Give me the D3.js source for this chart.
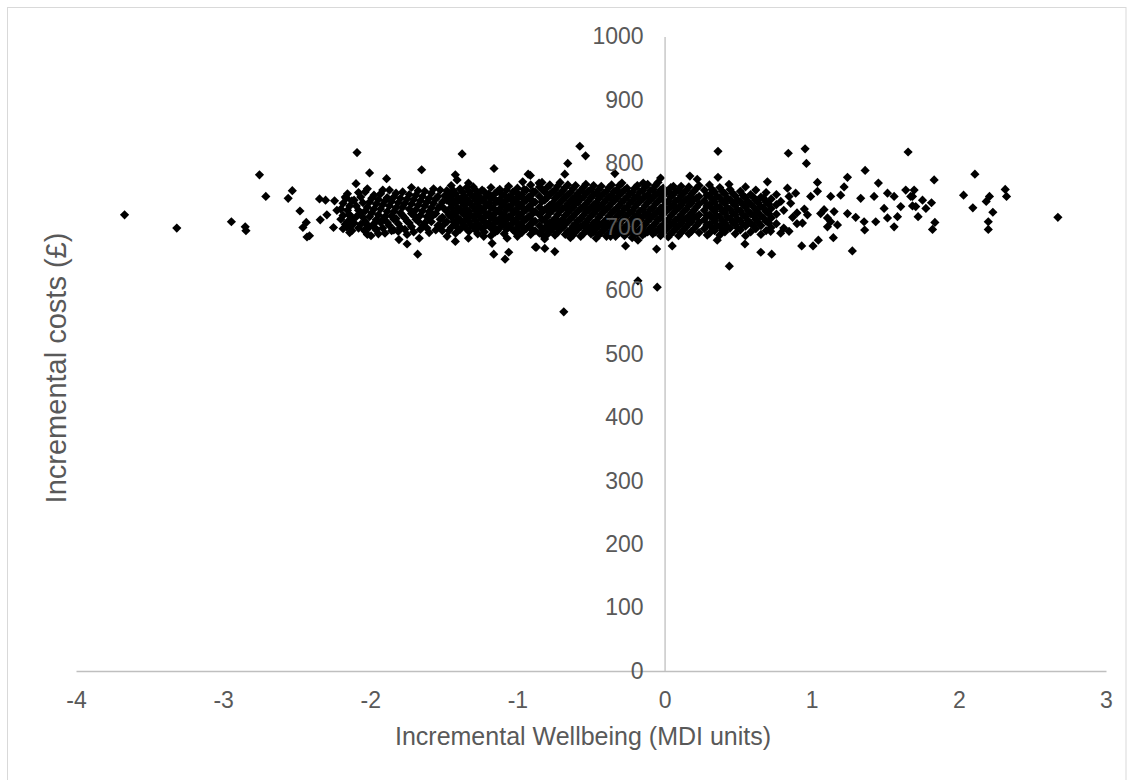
<!DOCTYPE html>
<html>
<head>
<meta charset="utf-8">
<script src="https://cdn.jsdelivr.net/npm/d3@7/dist/d3.min.js"></script>
<style>
  html, body { margin: 0; padding: 0; background: #fff; }
  svg { display: block; font-family: Arial, "Liberation Sans", sans-serif; }
</style>
</head>
<body>
<div id="chart"></div>
<script>
// tick labels
const xTicks = [-4, -3, -2, -1, 0, 1, 2, 3];
const yTicks = [0, 100, 200, 300, 400, 500, 600, 700, 800, 900, 1000];

// scattered points [wellbeing, cost]
const leftTail = [
  [-3.67, 719], [-3.315, 698], [-2.944, 708], [-2.85, 700], [-2.845, 694], [-2.753, 782],
  [-2.71, 748], [-2.53, 757], [-2.558, 745], [-2.478, 725], [-2.435, 707], [-2.458, 699],
  [-2.413, 686], [-2.43, 684], [-2.345, 744], [-2.304, 742], [-2.243, 741], [-2.227, 726],
  [-2.25, 699], [-2.295, 719], [-2.34, 711], [-2.165, 745], [-2.146, 719], [-2.16, 700],
];

const leftScatter = [
  [-2.09, 817], [-1.376, 815], [-2.005, 785], [-1.889, 776], [-1.651, 790], [-1.159, 792],
  [-1.422, 782], [-1.41, 774], [-0.927, 783], [-0.964, 771], [-0.853, 769], [-2.097, 768],
  [-2.163, 746], [-1.333, 769], [-1.678, 657], [-1.805, 680], [-1.75, 673], [-1.667, 682],
  [-1.422, 677], [-1.161, 657], [-1.084, 649], [-1.059, 660], [-0.878, 668], [-1.478, 685],
  [-1.333, 682], [-1.229, 685], [-1.172, 674], [-1.995, 686], [-2.04, 695], [-2.136, 700],
  [-1.84, 695], [-1.966, 698], [-1.07, 682], [-1.002, 695], [-0.912, 781],
];

const centreScatter = [
  [-0.576, 827], [-0.537, 812], [-0.658, 800], [-0.678, 783], [-0.338, 784], [-0.145, 769],
  [-0.027, 777], [-0.833, 770], [0.172, 780], [0.222, 775], [0.363, 819], [0.363, 778],
  [-0.871, 668], [-0.814, 666], [-0.746, 661], [-0.82, 685], [-0.265, 670], [-0.181, 679],
  [-0.054, 665], [0.052, 670], [-0.181, 615], [-0.05, 605], [-0.685, 566], [0.44, 638],
  [0.358, 679], [0.29, 687], [-0.367, 685], [-0.333, 685],
];

const rightScatter = [
  [0.955, 823], [0.841, 816], [0.964, 800], [1.655, 818], [1.363, 789], [1.243, 778],
  [1.039, 770], [1.453, 769], [0.699, 771], [0.438, 767], [0.654, 660], [0.728, 657],
  [0.932, 670], [1.009, 670], [1.045, 679], [1.147, 683], [1.276, 662], [0.546, 673],
  [1.36, 695], [1.435, 708], [1.56, 700], [1.583, 716], [1.639, 758], [1.685, 748],
  [1.707, 732], [1.424, 748], [1.515, 753], [1.56, 748], [1.492, 729], [1.605, 732],
  [1.515, 714], [1.333, 745], [1.299, 715], [1.356, 708], [1.243, 721], [1.197, 750],
  [1.22, 763], [1.129, 748], [1.107, 714], [1.061, 721], [1.039, 756], [0.993, 748],
  [0.937, 706], [0.971, 719], [1.152, 724], [1.129, 708], [1.175, 703], [1.084, 727],
  [1.107, 700], [0.857, 737], [0.835, 761], [0.891, 753], [0.846, 748], [0.789, 690],
  [0.846, 693], [0.721, 693], [0.79, 740], [0.81, 726], [0.87, 715], [0.9, 722],
  [0.95, 728], [0.81, 698], [0.9, 705],
];

const rightTail = [
  [1.832, 774], [2.109, 783], [2.032, 750], [2.095, 730], [2.208, 748], [2.186, 740],
  [2.231, 723], [2.2, 708], [2.2, 696], [2.315, 759], [2.324, 748], [2.673, 715],
  [1.696, 758], [1.673, 748], [1.753, 742], [1.814, 738], [1.776, 729], [1.685, 733],
  [1.723, 716], [1.837, 707], [1.821, 696],
];

// dense band, read as columns: [wellbeing, [costs...]]
const leftBand = [
  [-2.20, [728, 712]], [-2.17, [747, 704]], [-2.14, [733, 719, 691]], [-2.11, [742, 706]],
  [-2.08, [754, 726, 698]], [-2.05, [738, 715]], [-2.02, [760, 731, 703, 688]],
  [-1.99, [745, 722]], [-1.96, [736, 711, 695]], [-1.93, [752, 728, 707]],
  [-1.90, [741, 716, 690]], [-1.87, [758, 733, 702]], [-1.84, [747, 724, 712]],
  [-1.81, [738, 705, 693]], [-1.78, [755, 731, 718]], [-1.75, [744, 709, 688]],
  [-1.72, [762, 736, 721, 700]], [-1.69, [750, 727, 712]], [-1.66, [741, 718, 696]],
  [-1.63, [756, 733, 706]], [-1.60, [745, 724, 713, 691]], [-1.57, [760, 737, 719]],
  [-1.54, [748, 729, 702]], [-1.51, [739, 715, 694]], [-1.48, [757, 742, 725, 708]],
];

const leftFill = [
  [-2.185, [737, 718, 697]], [-2.155, [752, 726, 708]], [-2.125, [741, 712, 694]],
  [-2.095, [733, 716]], [-2.065, [747, 721, 704]], [-2.035, [755, 725, 709, 693]],
  [-2.005, [739, 716, 700]], [-1.975, [750, 728, 705]], [-1.945, [743, 719, 689]],
  [-1.915, [758, 735, 712, 698]], [-1.885, [746, 724, 707]], [-1.855, [740, 717, 694]],
  [-1.825, [753, 730, 713]], [-1.795, [745, 722, 699]], [-1.765, [737, 714, 696]],
  [-1.735, [751, 728, 706]], [-1.705, [743, 719, 692]], [-1.675, [757, 734, 709]],
  [-1.645, [748, 725, 702]], [-1.615, [739, 716, 698]], [-1.585, [753, 730, 708]],
  [-1.555, [744, 721, 695]], [-1.525, [758, 733, 712, 700]], [-1.495, [749, 728, 705]],
  [-1.465, [754, 740, 719, 694]],
];

const midBand = [
  [-1.45, [765, 748, 731, 716, 699]], [-1.42, [752, 737, 722, 705, 690]],
  [-1.39, [760, 744, 728, 711, 696]], [-1.36, [749, 734, 719, 702]],
  [-1.33, [756, 740, 724, 709, 693]], [-1.30, [763, 747, 731, 716, 700]],
  [-1.27, [752, 737, 721, 705, 689]], [-1.24, [758, 742, 727, 712, 697]],
  [-1.21, [748, 733, 718, 703]], [-1.18, [762, 745, 730, 714, 698, 686]],
  [-1.15, [753, 738, 722, 707, 692]], [-1.12, [759, 743, 728, 713, 699]],
  [-1.09, [750, 735, 719, 704, 689]], [-1.06, [764, 747, 732, 716, 701]],
  [-1.03, [755, 740, 725, 710, 695]], [-1.00, [761, 745, 729, 714, 699, 685]],
  [-0.97, [751, 736, 721, 706, 691]], [-0.94, [758, 742, 727, 712, 697]],
  [-0.91, [766, 749, 734, 718, 703, 688]], [-0.88, [755, 739, 724, 709, 694]],
];

const midFill = [
  [-1.435, [757, 740, 723, 708]], [-1.405, [745, 729, 714, 698]],
  [-1.375, [755, 738, 722, 706]], [-1.345, [762, 744, 727, 712, 697]],
  [-1.315, [751, 735, 718, 703]], [-1.285, [758, 742, 726, 710, 695]],
  [-1.255, [747, 731, 716, 701]], [-1.225, [755, 739, 723, 708, 692]],
  [-1.195, [752, 737, 721, 706]], [-1.165, [746, 730, 715, 700]],
  [-1.135, [756, 740, 725, 709, 694]], [-1.105, [751, 735, 720, 705]],
  [-1.075, [758, 742, 727, 711, 696]], [-1.045, [748, 733, 718, 703]],
  [-1.015, [755, 739, 724, 708, 692]], [-0.985, [750, 735, 719, 704]],
  [-0.955, [759, 743, 728, 712, 698]], [-0.925, [747, 731, 716, 701]],
  [-0.895, [756, 740, 725, 709, 694]],
];

const coreBand = [
  [-0.85, [763, 748, 731, 719, 702, 690]], [-0.815, [755, 742, 727, 710, 698, 681]],
  [-0.78, [766, 751, 734, 722, 706, 693]], [-0.745, [758, 745, 730, 713, 701, 687]],
  [-0.71, [770, 752, 739, 725, 708, 696]], [-0.675, [762, 747, 731, 718, 704, 688]],
  [-0.64, [754, 741, 727, 712, 695, 683]], [-0.605, [765, 748, 736, 721, 705, 692]],
  [-0.57, [757, 744, 729, 713, 700, 685]], [-0.535, [767, 752, 736, 723, 707, 694]],
  [-0.50, [759, 746, 730, 717, 701, 689]], [-0.465, [753, 738, 726, 709, 697, 682]],
  [-0.43, [764, 749, 733, 720, 704, 691]], [-0.395, [756, 743, 728, 712, 699, 685]],
  [-0.36, [766, 750, 737, 722, 706, 693]], [-0.325, [758, 745, 729, 716, 700, 688]],
  [-0.29, [769, 754, 739, 723, 710, 694]], [-0.255, [761, 747, 731, 718, 702, 690]],
  [-0.22, [754, 741, 725, 712, 696, 683]], [-0.185, [765, 748, 736, 719, 707, 691]],
  [-0.15, [757, 744, 727, 715, 698, 687]], [-0.115, [767, 750, 738, 721, 709, 692]],
  [-0.08, [759, 746, 730, 717, 701, 689]], [-0.045, [770, 753, 740, 724, 711, 695]],
  [-0.01, [761, 749, 732, 720, 703, 691]], [0.025, [755, 740, 728, 711, 699, 684]],
  [0.06, [764, 751, 735, 722, 706, 693]], [0.095, [758, 743, 730, 714, 701, 686]],
  [0.13, [753, 740, 724, 711, 695]], [0.165, [763, 746, 734, 717, 705, 689]],
  [0.20, [756, 743, 726, 714, 697]], [0.235, [765, 748, 736, 719, 707, 691]],
];

const coreFill = [
  [-0.8325, [759, 740, 723, 711, 694]], [-0.7975, [762, 746, 730, 716, 702, 688]],
  [-0.7625, [755, 737, 726, 709, 697]], [-0.7275, [764, 749, 734, 719, 705, 691]],
  [-0.6925, [757, 742, 729, 712, 699]], [-0.6575, [766, 751, 736, 722, 708, 693]],
  [-0.6225, [760, 744, 731, 716, 701, 687]], [-0.5875, [753, 739, 725, 710, 697]],
  [-0.5525, [762, 747, 732, 718, 703, 689]], [-0.5175, [756, 741, 727, 712, 698]],
  [-0.4825, [765, 750, 735, 721, 706, 692]], [-0.4475, [759, 744, 730, 715, 701, 687]],
  [-0.4125, [753, 738, 724, 708, 695]], [-0.3775, [762, 747, 732, 717, 703, 689]],
  [-0.3425, [756, 741, 726, 711, 697]], [-0.3075, [765, 750, 734, 720, 705, 691]],
  [-0.2725, [758, 743, 729, 714, 699, 686]], [-0.2375, [752, 737, 722, 707, 693]],
  [-0.2025, [761, 746, 731, 716, 702, 688]], [-0.1675, [755, 740, 725, 710, 696]],
  [-0.1325, [763, 748, 733, 719, 704, 690]], [-0.0975, [757, 742, 727, 713, 698]],
  [-0.0625, [765, 751, 736, 721, 706, 692]], [-0.0275, [758, 744, 729, 714, 700, 686]],
  [0.0075, [754, 739, 724, 709, 695]], [0.0425, [762, 747, 732, 717, 703, 689]],
  [0.0775, [756, 741, 726, 711, 697]], [0.1125, [764, 749, 734, 719, 705, 691]],
  [0.1475, [758, 743, 728, 713, 700]], [0.1825, [752, 737, 722, 708, 693]],
  [0.2175, [761, 745, 731, 716, 702]],
];

const rightBand = [
  [0.27, [758, 741, 726, 711, 697]], [0.305, [766, 750, 735, 719, 704, 690]],
  [0.34, [755, 739, 724, 709, 694]], [0.375, [762, 746, 731, 716, 701, 687]],
  [0.41, [752, 737, 722, 706, 692]], [0.445, [759, 743, 728, 713, 698]],
  [0.48, [749, 734, 719, 704, 689]], [0.515, [756, 740, 725, 710, 695]],
  [0.55, [763, 746, 731, 716, 701, 686]], [0.585, [751, 736, 721, 706, 692]],
  [0.62, [758, 742, 727, 712, 697]], [0.655, [747, 732, 717, 702, 688]],
  [0.69, [754, 739, 724, 709, 694]], [0.725, [744, 729, 714, 699]],
  [0.76, [751, 735, 720, 705]],
];

const rightFill = [
  [0.2875, [750, 733, 718, 703]], [0.3225, [759, 744, 729, 714, 699]],
  [0.3575, [748, 732, 717, 702]], [0.3925, [756, 740, 725, 710, 695]],
  [0.4275, [745, 730, 715, 700]], [0.4625, [753, 738, 722, 707]],
  [0.4975, [742, 727, 712, 698]], [0.5325, [750, 735, 719, 704]],
  [0.5675, [740, 725, 710]], [0.6025, [747, 732, 718, 702]],
  [0.6375, [738, 722, 707]], [0.6725, [745, 730, 714]],
  [0.7075, [736, 721, 706]],
];

const width = 1134;
const height = 780;
const margin = {top: 36.5, right: 28, bottom: 109, left: 76};

const classes = {
  frame: `chart__frame`,
  point: `chart__point`,
  xAxis: `x-axis`,
  yAxis: `y-axis`,
  xAxisTitle: `x-axis-title`,
  yAxisTitle: `y-axis-title`,
};

const fromColumns = cols => cols.flatMap(([w, costs]) => costs.map(c => [w, c]));

const points = [
  ...leftTail, ...leftScatter, ...centreScatter, ...rightScatter, ...rightTail,
  ...fromColumns(leftBand), ...fromColumns(leftFill),
  ...fromColumns(midBand), ...fromColumns(midFill),
  ...fromColumns(coreBand), ...fromColumns(coreFill),
  ...fromColumns(rightBand), ...fromColumns(rightFill),
];

const x = d3.scaleLinear()
  .domain([-4, 3])
  .range([margin.left, width - margin.right]);

const y = d3.scaleLinear()
  .domain([0, 1000])
  .range([height - margin.bottom, margin.top]);

const svg = d3.select(`#chart`)
  .append(`svg`)
    .attr(`width`, width)
    .attr(`height`, height);

svg.append(`rect`)
  .attr(`class`, classes.frame)
  .attr(`x`, 7.5)
  .attr(`y`, 7.5)
  .attr(`width`, width - 15.5)
  .attr(`height`, height)
  .attr(`fill`, `#fff`)
  .attr(`stroke`, `#d9d9d9`);

// diamond markers
const diamond = `M0,-4.6L4.6,0L0,4.6L-4.6,0Z`;

svg.append(`g`)
  .selectAll(`.${classes.point}`)
  .data(points)
  .enter().append(`path`)
    .attr(`class`, classes.point)
    .attr(`d`, diamond)
    .attr(`transform`, d => `translate(${x(d[0])},${y(d[1])})`)
    .attr(`fill`, `#000`);

// plain labels, hyphen minus like the original
const plain = d => `${d}`;

// axes cross at the origin
const xAxis = svg.append(`g`)
  .attr(`class`, classes.xAxis)
  .attr(`transform`, `translate(0,${y(0)})`)
  .call(d3.axisBottom(x).tickValues(xTicks).tickFormat(plain).tickSize(0).tickSizeOuter(0).tickPadding(21));

const yAxis = svg.append(`g`)
  .attr(`class`, classes.yAxis)
  .attr(`transform`, `translate(${x(0)},0)`)
  .call(d3.axisLeft(y).tickValues(yTicks).tickFormat(plain).tickSize(0).tickSizeOuter(0).tickPadding(21));

[xAxis, yAxis].forEach(axis => {
  axis.select(`.domain`)
    .attr(`stroke`, `#bfbfbf`)
    .attr(`stroke-width`, 1.3);
  axis.selectAll(`text`)
    .attr(`fill`, `#595959`)
    .style(`font-size`, `23px`)
    .style(`font-family`, `Arial, "Liberation Sans", sans-serif`);
});

svg.append(`text`)
  .attr(`class`, classes.xAxisTitle)
  .attr(`text-anchor`, `middle`)
  .attr(`transform`, `translate(583, 745)`)
  .attr(`fill`, `#595959`)
  .style(`font-size`, `25px`)
  .text(`Incremental Wellbeing (MDI units)`);

svg.append(`text`)
  .attr(`class`, classes.yAxisTitle)
  .attr(`text-anchor`, `middle`)
  .attr(`transform`, `translate(66, 368) rotate(-90)`)
  .attr(`fill`, `#595959`)
  .style(`font-size`, `29px`)
  .text(`Incremental costs (£)`);
</script>
</body>
</html>
